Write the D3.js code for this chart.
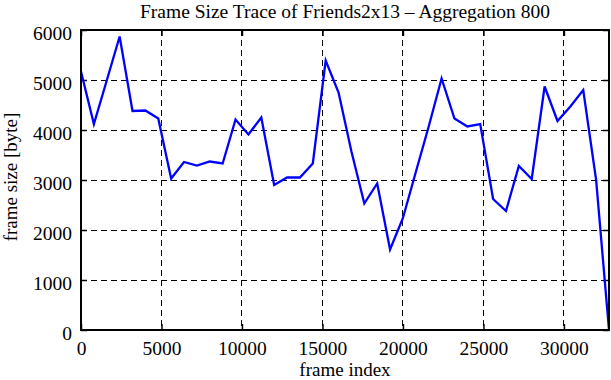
<!DOCTYPE html>
<html>
<head>
<meta charset="utf-8">
<script src="https://cdn.jsdelivr.net/npm/d3@7"></script>
<style>
  html, body { margin: 0; padding: 0; background: #fff; }
  svg { display: block; }
  svg text { font-family: "Liberation Serif", "Times New Roman", serif !important; fill: #000; }
</style>
</head>
<body>
<svg id="chart" width="611" height="380"></svg>
<script>
// ---- data ----
const frameIndex = [0, 800, 1600, 2400, 3200, 4000, 4800, 5600, 6400, 7200,
  8000, 8800, 9600, 10400, 11200, 12000, 12800, 13600, 14400, 15200,
  16000, 16800, 17600, 18400, 19200, 20000, 20800, 21600, 22400, 23200,
  24000, 24800, 25600, 26400, 27200, 28000, 28800, 29600, 30400, 31200,
  32000, 32800];
const frameSize = [5170, 4120, 4990, 5870, 4380, 4390, 4230, 3030, 3360, 3290,
  3370, 3330, 4210, 3910, 4250, 2900, 3050, 3050, 3330, 5390,
  4750, 3570, 2530, 2930, 1610, 2240, 3160, 4070, 5030, 4230,
  4070, 4120, 2620, 2380, 3280, 3020, 4870, 4180, 4470, 4800,
  3000, 0];
const xTicks = [0, 5000, 10000, 15000, 20000, 25000, 30000];
const yTicks = [0, 1000, 2000, 3000, 4000, 5000, 6000];
const titleText = "Frame Size Trace of Friends2x13 \u2013 Aggregation 800";
const xLabel = "frame index";
const yLabel = "frame size [byte]";

// ---- layout ----
const svg = d3.select("#chart");
const L = 81, R = 609, T = 30, B = 330;
const x = d3.scaleLinear().domain([0, 32800]).range([L, R]);
const y = d3.scaleLinear().domain([0, 6000]).range([B, T]);
const fs = 19.5;
const serif = "'Liberation Serif', 'Times New Roman', serif";

// grid
const grid = svg.append("g");
grid.selectAll("line.gx").data(xTicks.filter(d => d > 0)).enter().append("line")
  .attr("x1", d => x(d)).attr("x2", d => x(d)).attr("y1", T).attr("y2", B)
  .attr("stroke", "#000").attr("stroke-width", 1).attr("stroke-dasharray", "6,4")
  .attr("shape-rendering", "crispEdges");
grid.selectAll("line.gy").data(yTicks.filter(d => d > 0 && d < 6000)).enter().append("line")
  .attr("x1", L).attr("x2", R).attr("y1", d => y(d)).attr("y2", d => y(d))
  .attr("stroke", "#000").attr("stroke-width", 1).attr("stroke-dasharray", "6,4")
  .attr("shape-rendering", "crispEdges");

// axes (inward ticks, mirrored)
const tk = 6;
const ax = svg.append("g").attr("transform", `translate(0,${B})`)
  .call(d3.axisBottom(x).tickValues(xTicks).tickSize(-tk).tickPadding(25).tickFormat(d3.format("d")));
const axTop = svg.append("g").attr("transform", `translate(0,${T})`)
  .call(d3.axisTop(x).tickValues(xTicks).tickSize(-tk).tickFormat(""));
const ay = svg.append("g").attr("transform", `translate(${L},0)`)
  .call(d3.axisLeft(y).tickValues(yTicks).tickSize(-tk).tickPadding(9).tickFormat(d3.format("d")));
const ayR = svg.append("g").attr("transform", `translate(${R},0)`)
  .call(d3.axisRight(y).tickValues(yTicks).tickSize(-tk).tickFormat(""));
[ax, axTop, ay, ayR].forEach(g => {
  g.attr("font-family", null).attr("font-size", null);
  g.select(".domain").remove();
  g.selectAll(".tick line").attr("stroke", "#000").attr("stroke-width", 1.5);
  g.selectAll("text").style("font-family", serif).style("font-size", fs + "px").attr("fill", "#000");
});
ay.selectAll("text").attr("dy", "9px");
ax.selectAll("text").attr("dy", "0");

// line
svg.append("path")
  .datum(frameIndex.map((f, i) => [f, frameSize[i]]))
  .attr("fill", "none").attr("stroke", "#0000ff").attr("stroke-width", 2.3)
  .attr("stroke-linejoin", "miter")
  .attr("d", d3.line().x(d => x(d[0])).y(d => y(d[1])));

// frame
svg.append("rect").attr("x", L).attr("y", T).attr("width", R - L).attr("height", B - T)
  .attr("fill", "none").attr("stroke", "#000").attr("stroke-width", 2);

// labels
svg.append("text").attr("x", (L + R) / 2).attr("y", 17.5).attr("text-anchor", "middle")
  .style("font-size", "19.5px").style("font-family", serif).text(titleText);
svg.append("text").attr("x", (L + R) / 2).attr("y", 375.5).attr("text-anchor", "middle")
  .style("font-size", "19px").style("font-family", serif).text(xLabel);
svg.append("text").attr("transform", `translate(17,177) rotate(-90)`)
  .attr("text-anchor", "middle").style("font-size", "19px").style("font-family", serif).text(yLabel);
</script>
</body>
</html>
